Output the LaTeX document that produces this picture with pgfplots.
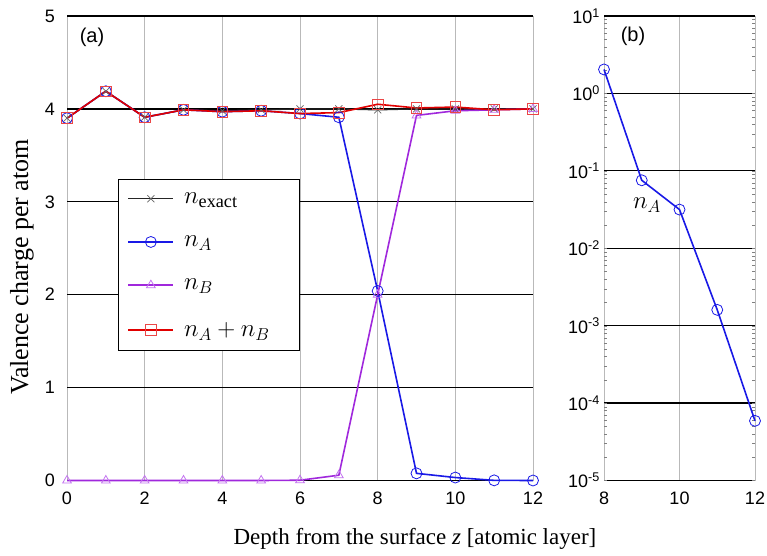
\documentclass[border=0pt]{standalone}
\usepackage{fontspec}
\setmainfont{Liberation Serif}
\newfontfamily\tickfont{Liberation Sans}
\usepackage{pgfplots}
\pgfplotsset{compat=1.18}
\definecolor{cA}{RGB}{25,25,230}
\definecolor{cB}{RGB}{160,40,220}
\definecolor{cBm}{RGB}{195,115,240}
\definecolor{cS}{RGB}{225,0,0}
\definecolor{cSm}{RGB}{235,70,70}
\begin{document}
\begin{tikzpicture}[x=1pt,y=1pt]
\useasboundingbox (0,0) rectangle (767,555);
\pgfplotsset{
 common/.style={
  scale only axis, anchor=south west,
  axis line style={draw=none},
  major tick length=0pt,
  xmajorgrids, ymajorgrids,
  x grid style={gray!55, line width=0.9pt},
  y grid style={black, line width=1.2pt},
  clip=false,
  ticklabel style={font=\tickfont\fontsize{18}{20}\selectfont, inner sep=0pt},
  /pgf/number format/assume math mode=true,
  xticklabel style={yshift=-11pt},
 }
}
\begin{axis}[common, at={(67pt,74.5pt)}, width=466pt, height=464.5pt,
  xmin=0, xmax=12, ymin=0, ymax=5, xtick={0,2,...,12}, ytick={0,1,...,5},
  yticklabel style={xshift=-12pt},
  legend style={at={(0.1094,0.649)}, anchor=north west, draw=black, line width=1.2pt,
    font=\fontsize{26}{30}\selectfont, row sep=27pt, inner xsep=9pt, inner ysep=11pt,
    cells={anchor=west}},
  legend cell align=left,
  legend image code/.code={\draw[mark repeat=2,mark phase=2,#1] plot coordinates {(0pt,0pt) (22.5pt,0pt) (45pt,0pt)};},
  ]
\addplot[black!85, line width=1.3pt, mark=x, mark size=5pt, mark options={gray!80!black, line width=0.7pt}] coordinates {
 (0,3.90) (1,4.19) (2,3.91) (3,3.99) (4,3.98) (5,3.99) (6,4.00) (7,4.00) (8,3.99) (9,4.00) (10,4.00) (11,4.00) (12,4.00)};
\addlegendentry{\kern8pt$n_{\mathrm{exact}}$}
\addplot[cA, line width=1.6pt, mark=o, mark size=5.5pt, mark options={line width=0.8pt}] coordinates {
 (0,3.90) (1,4.19) (2,3.91) (3,3.99) (4,3.97) (5,3.98) (6,3.95) (7,3.91) (8,2.04) (9,0.077) (10,0.032) (11,0.0016) (12,0.00006)};
\addlegendentry{\kern8pt$n_A$}
\addplot[cB, line width=1.6pt, mark=triangle, mark size=5pt, mark options={cBm, line width=0.8pt}] coordinates {
 (0,0) (1,0) (2,0) (3,0) (4,0) (5,0) (6,0.003) (7,0.057) (8,2.00) (9,3.93) (10,3.98) (11,3.99) (12,4.00)};
\addlegendentry{\kern8pt$n_B$}
\addplot[cS, line width=1.6pt, mark=square, mark size=5.3pt, mark options={cSm, line width=0.8pt}] coordinates {
 (0,3.90) (1,4.19) (2,3.91) (3,3.99) (4,3.97) (5,3.98) (6,3.95) (7,3.96) (8,4.05) (9,4.01) (10,4.02) (11,3.99) (12,4.00)};
\addlegendentry{\kern8pt$n_A+n_B$\rule{19pt}{0pt}}
\end{axis}
\begin{axis}[common, at={(604pt,74.5pt)}, width=151pt, height=464.5pt,
  xmin=8, xmax=12, ymode=log, ymin=1e-5, ymax=10, xtick={8,10,12},
  ytick={1e-5,1e-4,1e-3,1e-2,1e-1,1,10},
  yticklabels={10\textsuperscript{-5},10\textsuperscript{-4},10\textsuperscript{-3},10\textsuperscript{-2},10\textsuperscript{-1},10\textsuperscript{0},10\textsuperscript{1}},
  yticklabel style={xshift=-4pt},
  ]
\addplot[cA, line width=1.6pt, mark=o, mark size=5.5pt, mark options={line width=0.8pt}] coordinates {
 (8,2.04) (9,0.0755) (10,0.0316) (11,0.0016) (12,0.000059)};
\node[font=\fontsize{26}{30}\selectfont] at (axis cs:9.14,0.036) {$n_A$};
\end{axis}
\node[font=\tickfont\fontsize{20}{22}\selectfont] at (92,517.5) {(a)};
\node[font=\tickfont\fontsize{20}{22}\selectfont] at (633,519) {(b)};
\node[font=\fontsize{23}{26}\selectfont] at (415,16) {Depth from the surface \textit{z} [atomic layer]};
\node[rotate=90, font=\fontsize{26}{30}\selectfont] at (22,288) {Valence charge per atom};
\end{tikzpicture}
\end{document}
